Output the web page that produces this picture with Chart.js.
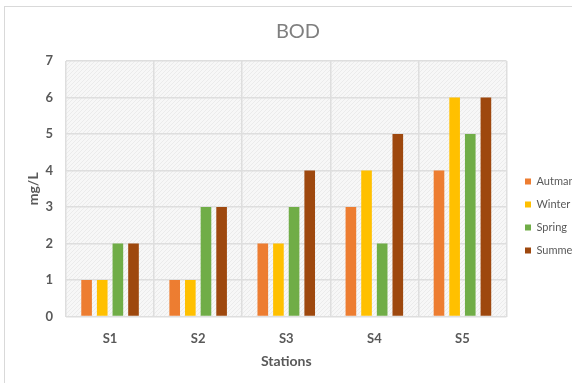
<!DOCTYPE html>
<html>
<head>
<meta charset="utf-8">
<script src="https://cdn.jsdelivr.net/npm/chart.js@4/dist/chart.umd.min.js"></script>
<style>
  html, body { margin: 0; padding: 0; background: #ffffff; overflow: hidden; }
  #wrap { position: relative; width: 572px; height: 383px; overflow: hidden; }
  #frame { position: absolute; left: 4px; top: 6px; width: 700px; height: 390px;
           border-left: 1px solid #d9d9d9; border-top: 1px solid #d9d9d9; box-sizing: border-box; }
  canvas { position: absolute; left: 0; top: 0; }
</style>
</head>
<body>
<div id="wrap">
  <div id="frame"></div>
  <canvas id="chart" width="583" height="383"></canvas>
</div>
<script>
// BOD readings per monitoring station and season
const stations = ['S1', 'S2', 'S3', 'S4', 'S5'];
const autman = [1, 1, 2, 3, 4];
const winter = [1, 1, 2, 4, 6];
const spring = [2, 3, 3, 2, 5];
const summer = [2, 3, 4, 5, 6];
const yTicks = [0, 1, 2, 3, 4, 5, 6, 7];

const FONT = 'Lato, "Open Sans", sans-serif';
const TEXT = '#595959';
const GRID = '#dedede';

// light hatched fill for the plotting area
function hatchPattern(ctx) {
  const c = document.createElement('canvas');
  c.width = 4; c.height = 4;
  const g = c.getContext('2d');
  g.fillStyle = '#f7f7f7';
  g.fillRect(0, 0, 4, 4);
  g.fillStyle = '#ebebeb';
  for (let i = 0; i < 4; i++) g.fillRect(i, 3 - i, 1, 1);
  return ctx.createPattern(c, 'repeat');
}

const plotBackground = {
  id: 'plotBackground',
  beforeDraw(chart) {
    const { ctx, chartArea: a } = chart;
    ctx.save();
    ctx.fillStyle = hatchPattern(ctx);
    ctx.fillRect(a.left, a.top, a.right - a.left, a.bottom - a.top);
    ctx.restore();
  }
};

new Chart(document.getElementById('chart'), {
  type: 'bar',
  data: {
    labels: stations,
    datasets: [
      { label: 'Autman', data: autman, backgroundColor: '#ED7D31' },
      { label: 'Winter', data: winter, backgroundColor: '#FFC000' },
      { label: 'Spring', data: spring, backgroundColor: '#70AD47' },
      { label: 'Summer', data: summer, backgroundColor: '#9E480E' }
    ]
  },
  options: {
    responsive: false,
    animation: false,
    devicePixelRatio: 1,
    layout: { padding: { left: 13, right: 0, top: 0, bottom: 0 } },
    datasets: { bar: { barPercentage: 0.68, categoryPercentage: 0.71 } },
    plugins: {
      title: {
        display: true,
        text: 'BOD',
        color: '#7f7f7f',
        font: { family: FONT, size: 20, weight: 'normal' },
        padding: { top: 20, bottom: 17 }
      },
      legend: {
        position: 'right',
        align: 'start',
        fullSize: false,
        maxWidth: 70,
        title: { display: true, text: '', font: { size: 1, lineHeight: 1 }, padding: { top: 102, bottom: 0 } },
        labels: {
          boxWidth: 6,
          boxHeight: 6,
          padding: 12,
          color: TEXT,
          font: { family: FONT, size: 11 }
        }
      },
      tooltip: { enabled: false }
    },
    scales: {
      x: {
        grid: { color: GRID, lineWidth: 1.5, drawTicks: false, offset: true },
        border: { display: false },
        ticks: { color: TEXT, padding: 14, font: { family: FONT, size: 13, weight: 'bold' } },
        title: {
          display: true, text: 'Stations', color: TEXT,
          font: { family: FONT, size: 14, weight: 'bold' },
          padding: { top: -7.5, bottom: 13.5 }
        }
      },
      y: {
        min: 0, max: 7,
        afterBuildTicks(scale) { scale.ticks = yTicks.map(v => ({ value: v })); },
        afterFit(scale) { scale.width = 53; },
        grid: { color: GRID, lineWidth: 1.5, drawTicks: false },
        border: { display: false },
        ticks: { color: TEXT, padding: 13, font: { family: FONT, size: 13, weight: 'bold' } },
        title: {
          display: true, text: 'mg/L', color: TEXT,
          font: { family: FONT, size: 14, weight: 'bold' },
          padding: { top: 12, bottom: 0 }
        }
      },
      gap: {
        type: 'linear',
        position: 'right',
        display: true,
        grid: { display: false },
        border: { display: false },
        ticks: { display: false },
        afterFit(scale) { scale.width = 6.5; }
      }
    }
  },
  plugins: [plotBackground]
});
</script>
</body>
</html>
